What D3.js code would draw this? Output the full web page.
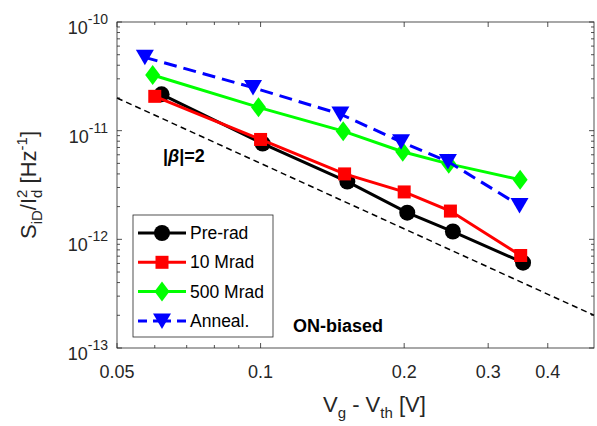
<!DOCTYPE html>
<html>
<head>
<meta charset="utf-8">
<script src="https://cdn.jsdelivr.net/npm/d3@7"></script>
<style>
  body { margin: 0; background: #fff; }
  svg text { font-family: "Liberation Sans", Arial, Helvetica, sans-serif; fill: #262626; }
</style>
</head>
<body>
<div id="chart"></div>
<script>
// data (Vg - Vth in V, S_iD/Id^2 in Hz^-1)
var seriesNames = ["Pre-rad", "10 Mrad", "500 Mrad", "Anneal."];
var preRadX = [0.062, 0.101, 0.152, 0.203, 0.253, 0.355];
var preRadY = [2.16e-11, 7.6e-12, 3.4e-12, 1.76e-12, 1.18e-12, 6.1e-13];
var mrad10X = [0.060, 0.100, 0.150, 0.200, 0.250, 0.351];
var mrad10Y = [2.07e-11, 8.3e-12, 4.0e-12, 2.73e-12, 1.82e-12, 7.1e-13];
var mrad500X = [0.0594, 0.099, 0.149, 0.1986, 0.248, 0.350];
var mrad500Y = [3.25e-11, 1.64e-11, 9.9e-12, 6.4e-12, 4.95e-12, 3.54e-12];
var annealX = [0.0572, 0.0964, 0.147, 0.197, 0.247, 0.349];
var annealY = [4.73e-11, 2.49e-11, 1.42e-11, 7.9e-12, 5.2e-12, 2.05e-12];
// |beta| = 2 guide line
var refX = [0.05, 0.5];
var refY = [2e-11, 2e-13];
var xTickValues = [0.05, 0.1, 0.2, 0.3, 0.4];
var xMinorTicks = [0.06, 0.07, 0.08, 0.09];
var yExponents = [-10, -11, -12, -13];

var width = 597, height = 426;
var margin = {top: 22, right: 3, bottom: 78, left: 117};

var svg = d3.select("#chart").append("svg")
    .attr("width", width)
    .attr("height", height);

var x = d3.scaleLog()
  .domain([0.05, 0.5])
  .range([margin.left, width - margin.right]);

var y = d3.scaleLog()
  .domain([1e-13, 1e-10])
  .range([height - margin.bottom, margin.top]);

var x0 = x.range()[0], x1 = x.range()[1],
    y0 = y.range()[0], y1 = y.range()[1];

var series = [
  {name: seriesNames[0], xs: preRadX, ys: preRadY, color: "#000000", marker: "circle", dash: null},
  {name: seriesNames[1], xs: mrad10X, ys: mrad10Y, color: "#ff0000", marker: "square", dash: null},
  {name: seriesNames[2], xs: mrad500X, ys: mrad500Y, color: "#00ff00", marker: "diamond", dash: null},
  {name: seriesNames[3], xs: annealX, ys: annealY, color: "#0000ff", marker: "triangle", dash: "13,7"}
];

// minor ticks for y: 2..9 in every decade
var yMinor = [];
yExponents.slice(1).forEach(e => {
  for (var k = 2; k <= 9; k++) yMinor.push(k * Math.pow(10, e));
});

var axisColor = "#262626";
var ticks = svg.append("g").attr("stroke", axisColor).attr("stroke-width", 0.8);

// x ticks (bottom and top)
xTickValues.concat(xMinorTicks).forEach(v => {
  var len = xMinorTicks.indexOf(v) >= 0 ? 3 : 5;
  ticks.append("line").attr("x1", x(v)).attr("x2", x(v)).attr("y1", y0).attr("y2", y0 - len);
  ticks.append("line").attr("x1", x(v)).attr("x2", x(v)).attr("y1", y1).attr("y2", y1 + len);
});

// y ticks (left and right)
yExponents.map(e => Math.pow(10, e)).concat(yMinor).forEach((v, i) => {
  var len = i < yExponents.length ? 5 : 3;
  ticks.append("line").attr("x1", x0).attr("x2", x0 + len).attr("y1", y(v)).attr("y2", y(v));
  ticks.append("line").attr("x1", x1).attr("x2", x1 - len).attr("y1", y(v)).attr("y2", y(v));
});

// x tick labels
svg.append("g").selectAll("text")
  .data(xTickValues)
  .enter().append("text")
    .attr("x", d => x(d))
    .attr("y", y0 + 30)
    .attr("text-anchor", "middle")
    .attr("font-size", 18)
    .text(d => d);

// y tick labels 10^n
var yLab = svg.append("g").selectAll("text")
  .data(yExponents)
  .enter().append("text")
    .attr("x", x0 - 9)
    .attr("y", d => y(Math.pow(10, d)) + 12)
    .attr("text-anchor", "end")
    .attr("font-size", 18);
yLab.append("tspan").text("10");
yLab.append("tspan").attr("font-size", 14).attr("dy", -10).text(d => "-" + Math.abs(d));

// guide line with slope -2
svg.append("path")
  .datum(refX.map((v, i) => [v, refY[i]]))
  .attr("fill", "none")
  .attr("stroke", "#000")
  .attr("stroke-width", 1.5)
  .attr("stroke-dasharray", "6,4")
  .attr("d", d3.line().x(d => x(d[0])).y(d => y(d[1])));

var line = d3.line().x(d => x(d[0])).y(d => y(d[1]));

function drawMarker(g, type, color, cx, cy) {
  if (type == "circle") {
    g.append("circle").attr("cx", cx).attr("cy", cy).attr("r", 8).attr("fill", color);
  } else if (type == "square") {
    g.append("rect").attr("x", cx - 6.5).attr("y", cy - 6.5).attr("width", 13).attr("height", 13).attr("fill", color);
  } else if (type == "diamond") {
    g.append("path").attr("fill", color)
      .attr("d", `M${cx},${cy - 10}L${cx + 7.5},${cy}L${cx},${cy + 10}L${cx - 7.5},${cy}Z`);
  } else {
    g.append("path").attr("fill", color)
      .attr("d", `M${cx - 9},${cy - 7.5}L${cx + 9},${cy - 7.5}L${cx},${cy + 8}Z`);
  }
}

series.forEach(s => {
  var pts = s.xs.map((v, i) => [v, s.ys[i]]);
  var g = svg.append("g");
  g.append("path")
    .datum(pts)
    .attr("fill", "none")
    .attr("stroke", s.color)
    .attr("stroke-width", 3)
    .attr("stroke-dasharray", s.dash)
    .attr("d", line);
  pts.forEach(p => drawMarker(g, s.marker, s.color, x(p[0]), y(p[1])));
});

// axes box
svg.append("rect")
  .attr("x", x0).attr("y", y1)
  .attr("width", x1 - x0).attr("height", y0 - y1)
  .attr("fill", "none")
  .attr("stroke", axisColor)
  .attr("stroke-width", 0.8);

// legend
var legend = svg.append("g").attr("transform", "translate(133,215)");
legend.append("rect")
  .attr("width", 140).attr("height", 122)
  .attr("fill", "#fff")
  .attr("stroke", axisColor)
  .attr("stroke-width", 0.8);
series.forEach((s, i) => {
  var ly = 18 + i * 29.3;
  legend.append("line")
    .attr("x1", 5).attr("x2", 53)
    .attr("y1", ly).attr("y2", ly)
    .attr("stroke", s.color)
    .attr("stroke-width", 3)
    .attr("stroke-dasharray", s.dash ? "9,6,18,6" : null);
  drawMarker(legend, s.marker, s.color, 29, ly);
  legend.append("text")
    .attr("x", 57).attr("y", ly + 6)
    .attr("font-size", 17.5)
    .style("fill", "#000")
    .text(s.name);
});

// annotations
var beta = svg.append("text")
  .attr("x", 163).attr("y", 162)
  .attr("font-size", 18)
  .attr("font-weight", "bold")
  .style("fill", "#000");
beta.append("tspan").text("|");
beta.append("tspan").attr("font-style", "italic").text("\u03b2");
beta.append("tspan").text("|=2");

svg.append("text")
  .attr("x", 293).attr("y", 332)
  .attr("font-size", 18)
  .attr("font-weight", "bold")
  .style("fill", "#000")
  .text("ON-biased");

// axis labels
var xl = svg.append("text")
  .attr("x", 323).attr("y", 412)
  .attr("font-size", 22);
xl.append("tspan").text("V");
xl.append("tspan").attr("font-size", 15).attr("dy", 6).text("g");
xl.append("tspan").attr("dy", -6).text(" - V");
xl.append("tspan").attr("font-size", 15).attr("dy", 6).text("th");
xl.append("tspan").attr("dy", -6).text(" [V]");

var yl = svg.append("text")
  .attr("transform", `translate(36,${(y0 + y1) / 2}) rotate(-90)`)
  .attr("text-anchor", "middle")
  .attr("font-size", 22);
yl.append("tspan").text("S");
yl.append("tspan").attr("font-size", 15).attr("dy", 6).text("iD");
yl.append("tspan").attr("dy", -6).text("/I");
yl.append("tspan").attr("font-size", 15).attr("dy", 6).text("d");
yl.append("tspan").attr("font-size", 15).attr("dx", -8.3).attr("dy", -15).text("2");
yl.append("tspan").attr("dy", 9).text(" [Hz");
yl.append("tspan").attr("font-size", 15).attr("dy", -9).text("-1");
yl.append("tspan").attr("dy", 9).text("]");
</script>
</body>
</html>
